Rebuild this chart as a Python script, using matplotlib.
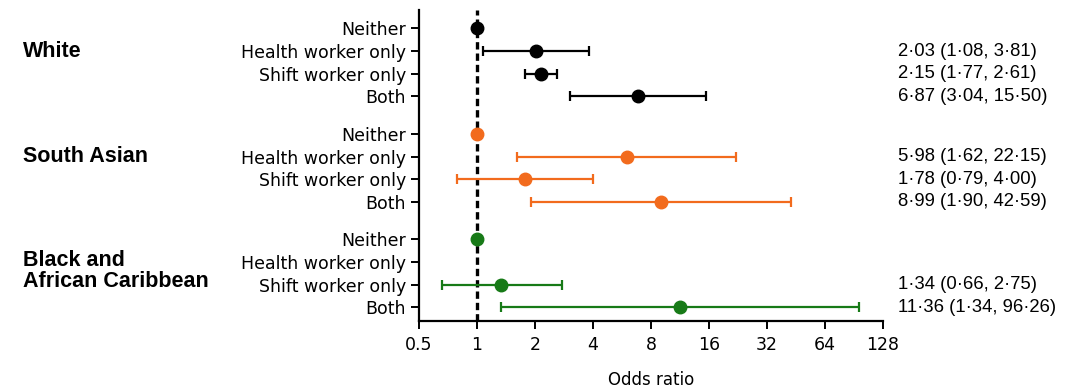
import numpy as np
import matplotlib.pyplot as plt
from matplotlib.transforms import blended_transform_factory

groups = ['White', 'South Asian', 'Black and\nAfrican Caribbean']
rows = ['Neither', 'Health worker only', 'Shift worker only', 'Both']
colors = ['black', '#F26B1D', '#177A17']

# odds ratio, lower CI, upper CI (nan = no estimate)
white_or = [1, 2.03, 2.15, 6.87]
white_lo = [1, 1.08, 1.77, 3.04]
white_hi = [1, 3.81, 2.61, 15.50]
sa_or = [1, 5.98, 1.78, 8.99]
sa_lo = [1, 1.62, 0.79, 1.90]
sa_hi = [1, 22.15, 4.00, 42.59]
bac_or = [1, np.nan, 1.34, 11.36]
bac_lo = [1, np.nan, 0.66, 1.34]
bac_hi = [1, np.nan, 2.75, 96.26]

ors = [white_or, sa_or, bac_or]
los = [white_lo, sa_lo, bac_lo]
his = [white_hi, sa_hi, bac_hi]

GROUP_STRIDE = 4.65

fig = plt.figure(figsize=(10.81, 3.91), dpi=100)
ax = fig.add_axes([0.3876, 0.179, 0.4292, 0.795])
ax.set_xscale('log', base=2)

ax.axvline(1, color='black', lw=2.4, ls=(0, (2.2, 1.2)), zorder=1)

lab_tr = blended_transform_factory(fig.transFigure, ax.transData)
ann_tr = blended_transform_factory(ax.transAxes, ax.transData)

yticks, ylabels = [], []
for g, name in enumerate(groups):
    base = g * GROUP_STRIDE
    for r, rname in enumerate(rows):
        y = base + r
        yticks.append(y)
        ylabels.append(rname)
        o, lo, hi = ors[g][r], los[g][r], his[g][r]
        if np.isnan(o):
            continue
        ax.errorbar(o, y, xerr=[[o - lo], [hi - o]], fmt='o', color=colors[g],
                    ms=9, lw=1.6, capsize=3.8, capthick=1.6, zorder=3)
        if r > 0:
            txt = ('%.2f (%.2f, %.2f)' % (o, lo, hi)).replace('.', '\u00b7')
            ax.text(1.032, y, txt, transform=ann_tr, ha='left', va='center',
                    fontsize=13.3, family='Liberation Sans', clip_on=False)
    ly = base + 1 if g < 2 else base + 1.4
    ax.text(0.021, ly, name, transform=lab_tr, ha='left', va='center',
            fontsize=15.5, fontweight='bold', family='Liberation Sans',
            linespacing=1.0)

ax.set_yticks(yticks)
ax.set_yticklabels(ylabels, fontsize=12.5)
ax.set_ylim(2 * GROUP_STRIDE + 3.6, -0.8)

xt = [0.5, 1, 2, 4, 8, 16, 32, 64, 128]
ax.set_xticks(xt)
ax.set_xticklabels(['0.5', '1', '2', '4', '8', '16', '32', '64', '128'], fontsize=12.5)
ax.minorticks_off()
ax.set_xlim(0.5, 128)
ax.set_xlabel('Odds ratio', fontsize=12, labelpad=12)

for s in ['top', 'right']:
    ax.spines[s].set_visible(False)
for s in ['left', 'bottom']:
    ax.spines[s].set_linewidth(1.6)
ax.tick_params(axis='both', width=1.4, length=6, direction='out')
ax.tick_params(axis='x', pad=5)

fig.savefig('out.png', dpi=100)
